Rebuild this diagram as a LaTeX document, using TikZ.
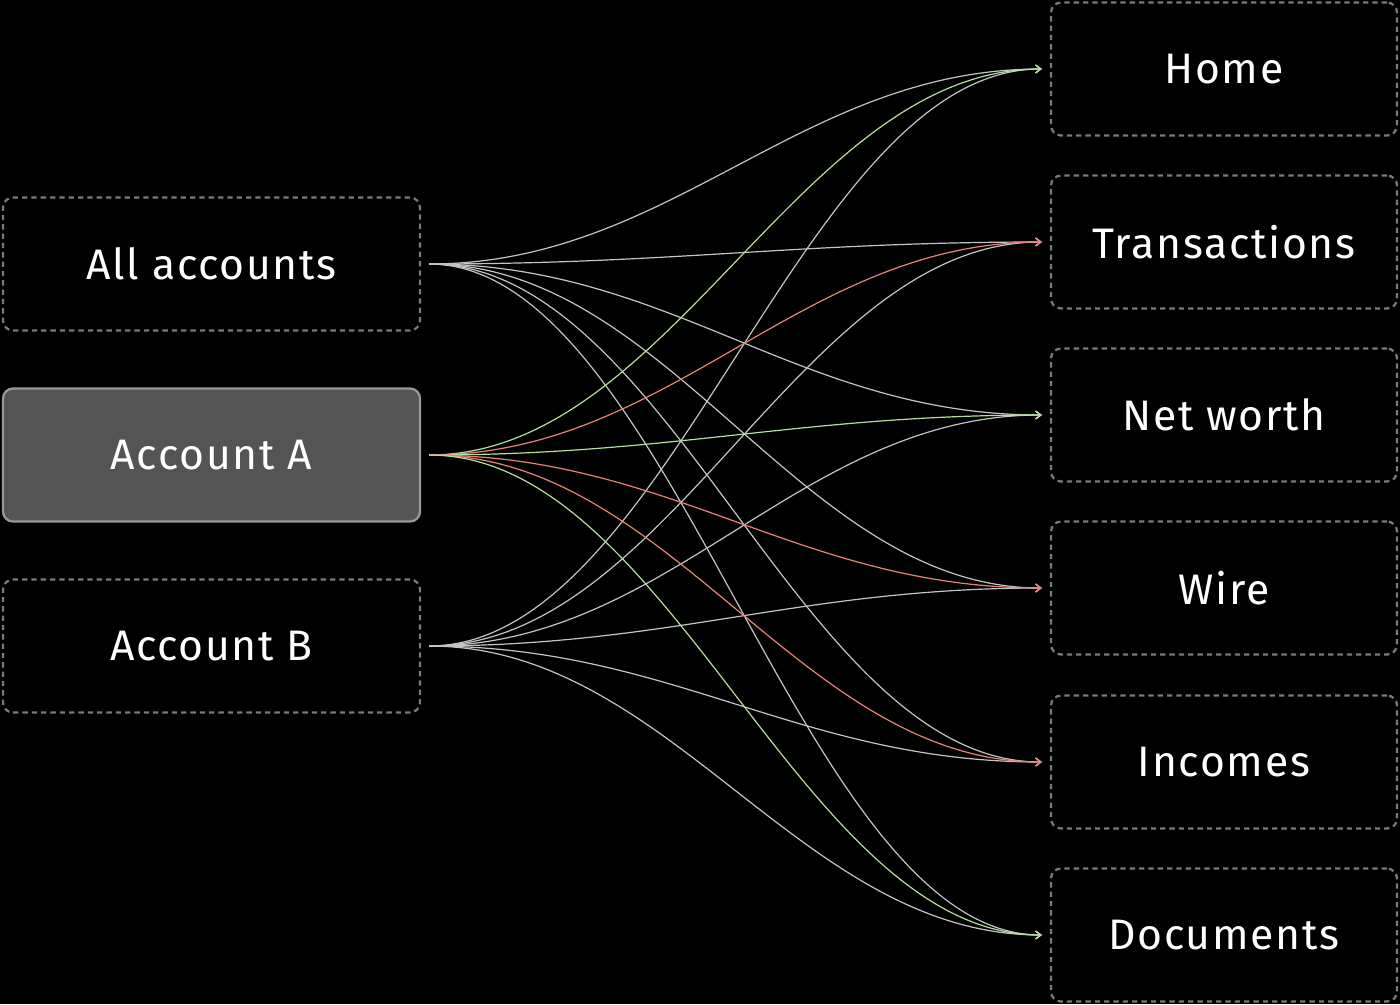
\documentclass[tikz,border=0pt]{standalone}
\usepackage{fontspec}
\setmainfont[LetterSpace=4]{Fira Sans}
\usetikzlibrary{arrows.meta}
\definecolor{edgegray}{HTML}{C4C4C4}
\definecolor{edgegreen}{HTML}{B5DFA0}
\definecolor{edgered}{HTML}{E88378}
\definecolor{boxline}{HTML}{7A7A7A}
\begin{document}
\begin{tikzpicture}[x=0.75pt,y=0.75pt,yscale=-1,xscale=1,
    box/.style={draw=boxline,dash pattern=on 4pt off 3pt,line width=1.7pt,rounded corners=7.5pt,minimum width=312.75pt,minimum height=99.75pt,text=white,font=\fontsize{32}{38}\selectfont,inner sep=0pt},
    page/.style={box,minimum width=259.5pt},
    sel/.style={box,solid,draw=gray!80,fill=black!67},
    link/.style={line width=0.9pt,shorten <=6pt,shorten >=6pt,-{Straight Barb[length=4pt,width=6pt]}}]
    \fill (0,0) rectangle (1400,1004);
    \useasboundingbox (0,0) rectangle (1400,1004);
    
    % sources
    \node [box] (all) at (211.5,264) {All accounts};
    \node [sel] (accA) at (211.5,455) {Account A};
    \node [box] (accB) at (211.5,646) {Account B};
    
    % pages
    \node [page] (home) at (1224,69) {Home};
    \node [page] (trans) at (1224,242) {Transactions};
    \node [page] (net) at (1224,415) {Net worth};
    \node [page] (wire) at (1224,588) {Wire};
    \node [page] (inc) at (1224,762) {Incomes};
    \node [page] (docs) at (1224,935) {Documents};
    
    % links
    \foreach \s in {all,accB}
      \foreach \t in {home,trans,net,wire,inc,docs}
        \draw [link,edgegray] (\s.east) .. controls +(250,0) and +(-250,0) .. (\t.west);
    \foreach \t/\c in {home/edgegreen,trans/edgered,net/edgegreen,wire/edgered,inc/edgered,docs/edgegreen}
      \draw [link,\c] (accA.east) .. controls +(250,0) and +(-250,0) .. (\t.west);
\end{tikzpicture}
\end{document}
